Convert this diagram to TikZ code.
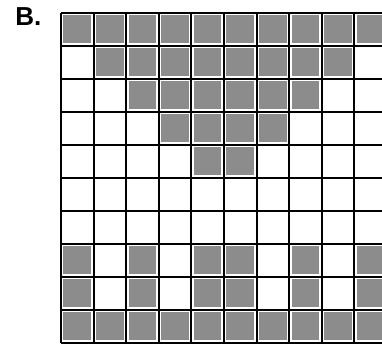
\documentclass[tikz,border=0pt]{standalone}
\usepackage{fontspec}
\setsansfont{Liberation Sans}
\begin{document}
\begin{tikzpicture}[x=32.6pt, y=-33pt,
    shd/.style={fill=black!45},
    grd/.style={line width=2pt, line cap=square},
    lbl/.style={font=\sffamily\bfseries\fontsize{26}{26}\selectfont, inner sep=0pt}
]
\useasboundingbox (-1.871,-0.394) rectangle (9.847,10.091);
\clip (-1.871,-0.394) rectangle (9.847,10.091);

\node[lbl] (lab) at (-1.0,0.12) {B.};

% stippled cells, row / columns
\foreach \r/\cols in {0/{0,...,9}, 1/{1,...,8}, 2/{2,...,7}, 3/{3,...,6}, 4/{4,5},
                      7/{0,2,4,5,7,9}, 8/{0,2,4,5,7,9}, 9/{0,...,9}}
  \foreach \c in \cols
    \fill[shd] ([xshift=2.5pt,yshift=-2.5pt]\c,\r) rectangle ([xshift=-2.5pt,yshift=2.5pt]\c+1,\r+1);

% grid lines
\foreach \i in {0,...,10} {
  \draw[grd] (\i,0) -- (\i,10);
  \draw[grd] (0,\i) -- (10,\i);
}
\end{tikzpicture}
\end{document}
